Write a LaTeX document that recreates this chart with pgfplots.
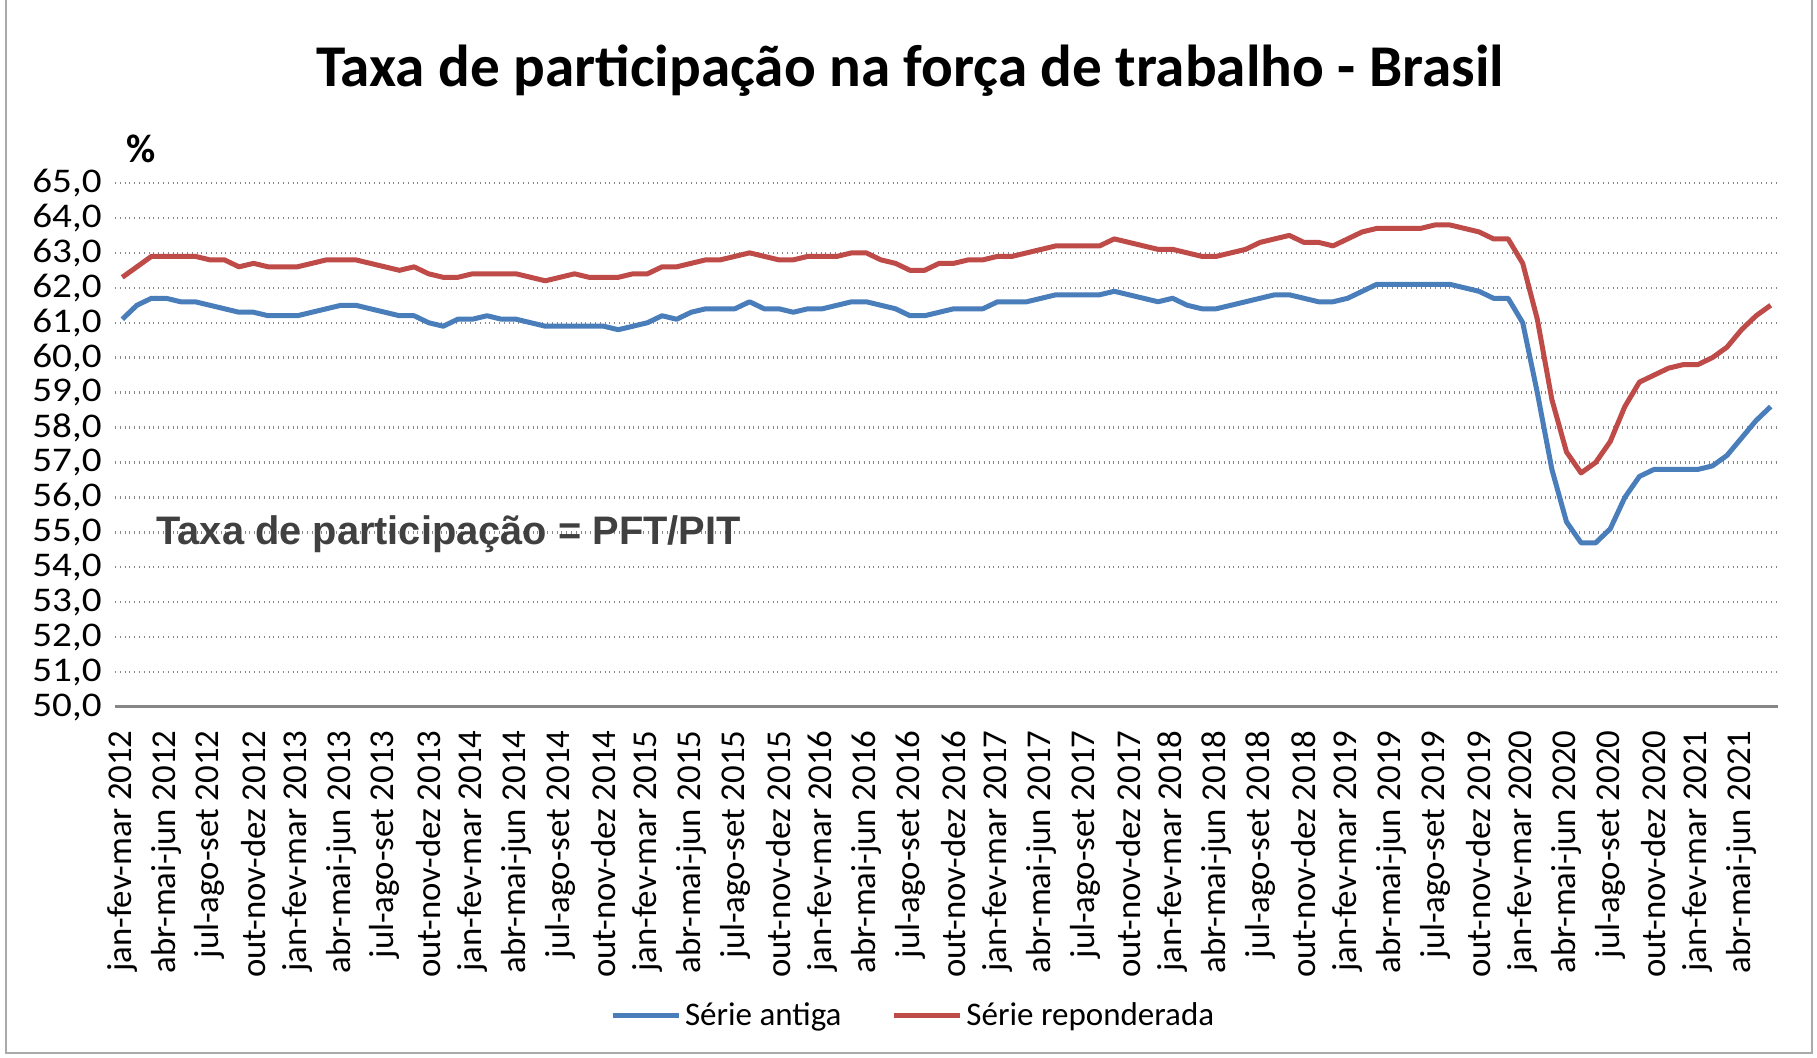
\documentclass[border=0pt]{standalone}
\usepackage{pgfplots}
\pgfplotsset{compat=1.18}
\usepackage{pgfplotstable}
\usepackage{fontspec}
\setmainfont{Carlito}
\newfontfamily\arialb{Liberation Sans}
\newfontfamily\wide[FakeStretch=1.13]{Carlito}

\definecolor{blueS}{HTML}{4A7EBB}
\definecolor{redS}{HTML}{BE4B48}
\definecolor{gridc}{HTML}{868686}
\definecolor{annot}{HTML}{404040}

\pgfplotstableread{
i antiga repond
0 61.1 62.3
1 61.5 62.6
2 61.7 62.9
3 61.7 62.9
4 61.6 62.9
5 61.6 62.9
6 61.5 62.8
7 61.4 62.8
8 61.3 62.6
9 61.3 62.7
10 61.2 62.6
11 61.2 62.6
12 61.2 62.6
13 61.3 62.7
14 61.4 62.8
15 61.5 62.8
16 61.5 62.8
17 61.4 62.7
18 61.3 62.6
19 61.2 62.5
20 61.2 62.6
21 61.0 62.4
22 60.9 62.3
23 61.1 62.3
24 61.1 62.4
25 61.2 62.4
26 61.1 62.4
27 61.1 62.4
28 61.0 62.3
29 60.9 62.2
30 60.9 62.3
31 60.9 62.4
32 60.9 62.3
33 60.9 62.3
34 60.8 62.3
35 60.9 62.4
36 61.0 62.4
37 61.2 62.6
38 61.1 62.6
39 61.3 62.7
40 61.4 62.8
41 61.4 62.8
42 61.4 62.9
43 61.6 63.0
44 61.4 62.9
45 61.4 62.8
46 61.3 62.8
47 61.4 62.9
48 61.4 62.9
49 61.5 62.9
50 61.6 63.0
51 61.6 63.0
52 61.5 62.8
53 61.4 62.7
54 61.2 62.5
55 61.2 62.5
56 61.3 62.7
57 61.4 62.7
58 61.4 62.8
59 61.4 62.8
60 61.6 62.9
61 61.6 62.9
62 61.6 63.0
63 61.7 63.1
64 61.8 63.2
65 61.8 63.2
66 61.8 63.2
67 61.8 63.2
68 61.9 63.4
69 61.8 63.3
70 61.7 63.2
71 61.6 63.1
72 61.7 63.1
73 61.5 63.0
74 61.4 62.9
75 61.4 62.9
76 61.5 63.0
77 61.6 63.1
78 61.7 63.3
79 61.8 63.4
80 61.8 63.5
81 61.7 63.3
82 61.6 63.3
83 61.6 63.2
84 61.7 63.4
85 61.9 63.6
86 62.1 63.7
87 62.1 63.7
88 62.1 63.7
89 62.1 63.7
90 62.1 63.8
91 62.1 63.8
92 62.0 63.7
93 61.9 63.6
94 61.7 63.4
95 61.7 63.4
96 61.0 62.7
97 59.0 61.1
98 56.8 58.8
99 55.3 57.3
100 54.7 56.7
101 54.7 57.0
102 55.1 57.6
103 56.0 58.6
104 56.6 59.3
105 56.8 59.5
106 56.8 59.7
107 56.8 59.8
108 56.8 59.8
109 56.9 60.0
110 57.2 60.3
111 57.7 60.8
112 58.2 61.2
113 58.6 61.5
}\data

\begin{document}
\begin{tikzpicture}
\useasboundingbox (-57.5pt,-175.5pt) rectangle (851pt,353.5pt);
\draw[color=gridc!70, line width=1pt] (-54.5pt,353.5pt) -- (-54.5pt,-173pt) -- (848.5pt,-173pt) -- (848.5pt,353.5pt);
\begin{axis}[
  at={(0pt,0pt)}, anchor=south west,
  width=831.5pt, height=262pt, scale only axis,
  xmin=-0.5, xmax=113.5, ymin=50, ymax=65,
  axis x line*=bottom, axis y line*=left,
  y axis line style={draw=none},
  x axis line style={draw=gridc, line width=1.5pt},
  tick style={draw=none},
  ytick={50,51,...,65},
  ymajorgrids,
  major grid style={dotted, gridc, line width=1.2pt},
  /pgf/number format/.cd, use comma, fixed, fixed zerofill, precision=1, assume math mode=true,
  /pgfplots/.cd,
  yticklabel style={font=\wide\fontsize{17.3}{20}\selectfont, inner sep=0pt},
  yticklabel shift=6.5pt,
  xtick={0,3,...,111},
  xticklabels={jan-fev-mar 2012,abr-mai-jun 2012,jul-ago-set 2012,out-nov-dez 2012,
    jan-fev-mar 2013,abr-mai-jun 2013,jul-ago-set 2013,out-nov-dez 2013,
    jan-fev-mar 2014,abr-mai-jun 2014,jul-ago-set 2014,out-nov-dez 2014,
    jan-fev-mar 2015,abr-mai-jun 2015,jul-ago-set 2015,out-nov-dez 2015,
    jan-fev-mar 2016,abr-mai-jun 2016,jul-ago-set 2016,out-nov-dez 2016,
    jan-fev-mar 2017,abr-mai-jun 2017,jul-ago-set 2017,out-nov-dez 2017,
    jan-fev-mar 2018,abr-mai-jun 2018,jul-ago-set 2018,out-nov-dez 2018,
    jan-fev-mar 2019,abr-mai-jun 2019,jul-ago-set 2019,out-nov-dez 2019,
    jan-fev-mar 2020,abr-mai-jun 2020,jul-ago-set 2020,out-nov-dez 2020,
    jan-fev-mar 2021,abr-mai-jun 2021},
  xticklabel style={rotate=90, anchor=east, inner sep=0pt, font=\fontsize{17.4}{19}\selectfont},
  xticklabel shift=11.5pt,
  legend columns=2,
  legend style={at={(0.4805,-0.5897)}, anchor=center, draw=none, fill=none,
    font=\fontsize{16.5}{20}\selectfont,
    /tikz/every even column/.append style={column sep=23pt}},
  legend image code/.code={\draw[#1, line width=2.5pt] (0pt,0pt) -- (33pt,0pt);},
]
\addplot[blueS, line width=2.5pt, line join=round] table[x=i, y=antiga] {\data};
\addlegendentry{Série antiga}
\addplot[redS, line width=2.5pt, line join=round] table[x=i, y=repond] {\data};
\addlegendentry{Série reponderada}
\node[anchor=west, inner sep=0pt, text=annot, font=\arialb\bfseries\fontsize{19.9}{23}\selectfont] at (axis cs:2.31,54.95) {Taxa de participação = PFT/PIT};
\end{axis}
\node[font=\bfseries\fontsize{29.6}{34}\selectfont, anchor=base] at (397.5pt,310pt) {Taxa de participação na força de trabalho - Brasil};
\node[font=\bfseries\fontsize{20}{24}\selectfont] at (13pt,279pt) {\%};
\end{tikzpicture}
\end{document}
